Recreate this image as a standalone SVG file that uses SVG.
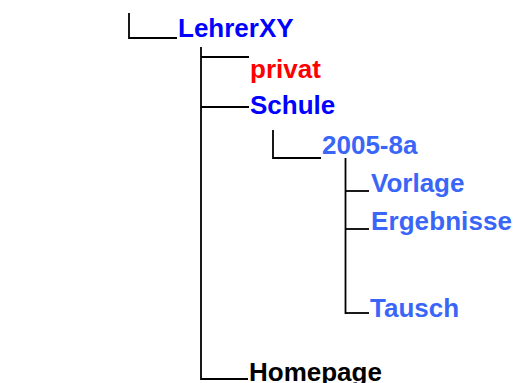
<svg xmlns="http://www.w3.org/2000/svg" width="514" height="383" viewBox="0 0 514 383">
<style>
.ln{stroke:#000;stroke-width:1.8;fill:none}
text{font-family:"Liberation Sans",Arial,sans-serif;font-weight:bold;font-size:26px}
.b{fill:#0000ff}.r{fill:#ff0000}.l{fill:#3a66f8}.k{fill:#000}
</style>
<rect width="514" height="383" fill="#fff"/>
<g id="connectors">
<path class="ln" d="M129,13 V38 H177"/>
<path class="ln" d="M201,47 V379 H248"/>
<path class="ln" d="M201,57 H249"/>
<path class="ln" d="M201,107 H249"/>
<path class="ln" d="M273,130 V158 H321"/>
<path class="ln" d="M345.5,158 V314"/>
<path class="ln" d="M345.5,191 H369"/>
<path class="ln" d="M345.5,229 H369"/>
<path class="ln" d="M345.5,313 H369"/>
</g>
<g id="LehrerXY"><text class="b" x="178" y="37">LehrerXY</text></g>
<g id="privat"><text class="r" x="250" y="78">privat</text></g>
<g id="Schule"><text class="b" x="250" y="114">Schule</text></g>
<g id="n2005-8a"><text class="l" x="322" y="154">2005-8a</text></g>
<g id="Vorlage"><text class="l" x="371" y="192">Vorlage</text></g>
<g id="Ergebnisse"><text class="l" x="371" y="230" textLength="141">Ergebnisse</text></g>
<g id="Tausch"><text class="l" x="370" y="317">Tausch</text></g>
<g id="Homepage"><text class="k" x="249" y="381">Homepage</text></g>
</svg>
